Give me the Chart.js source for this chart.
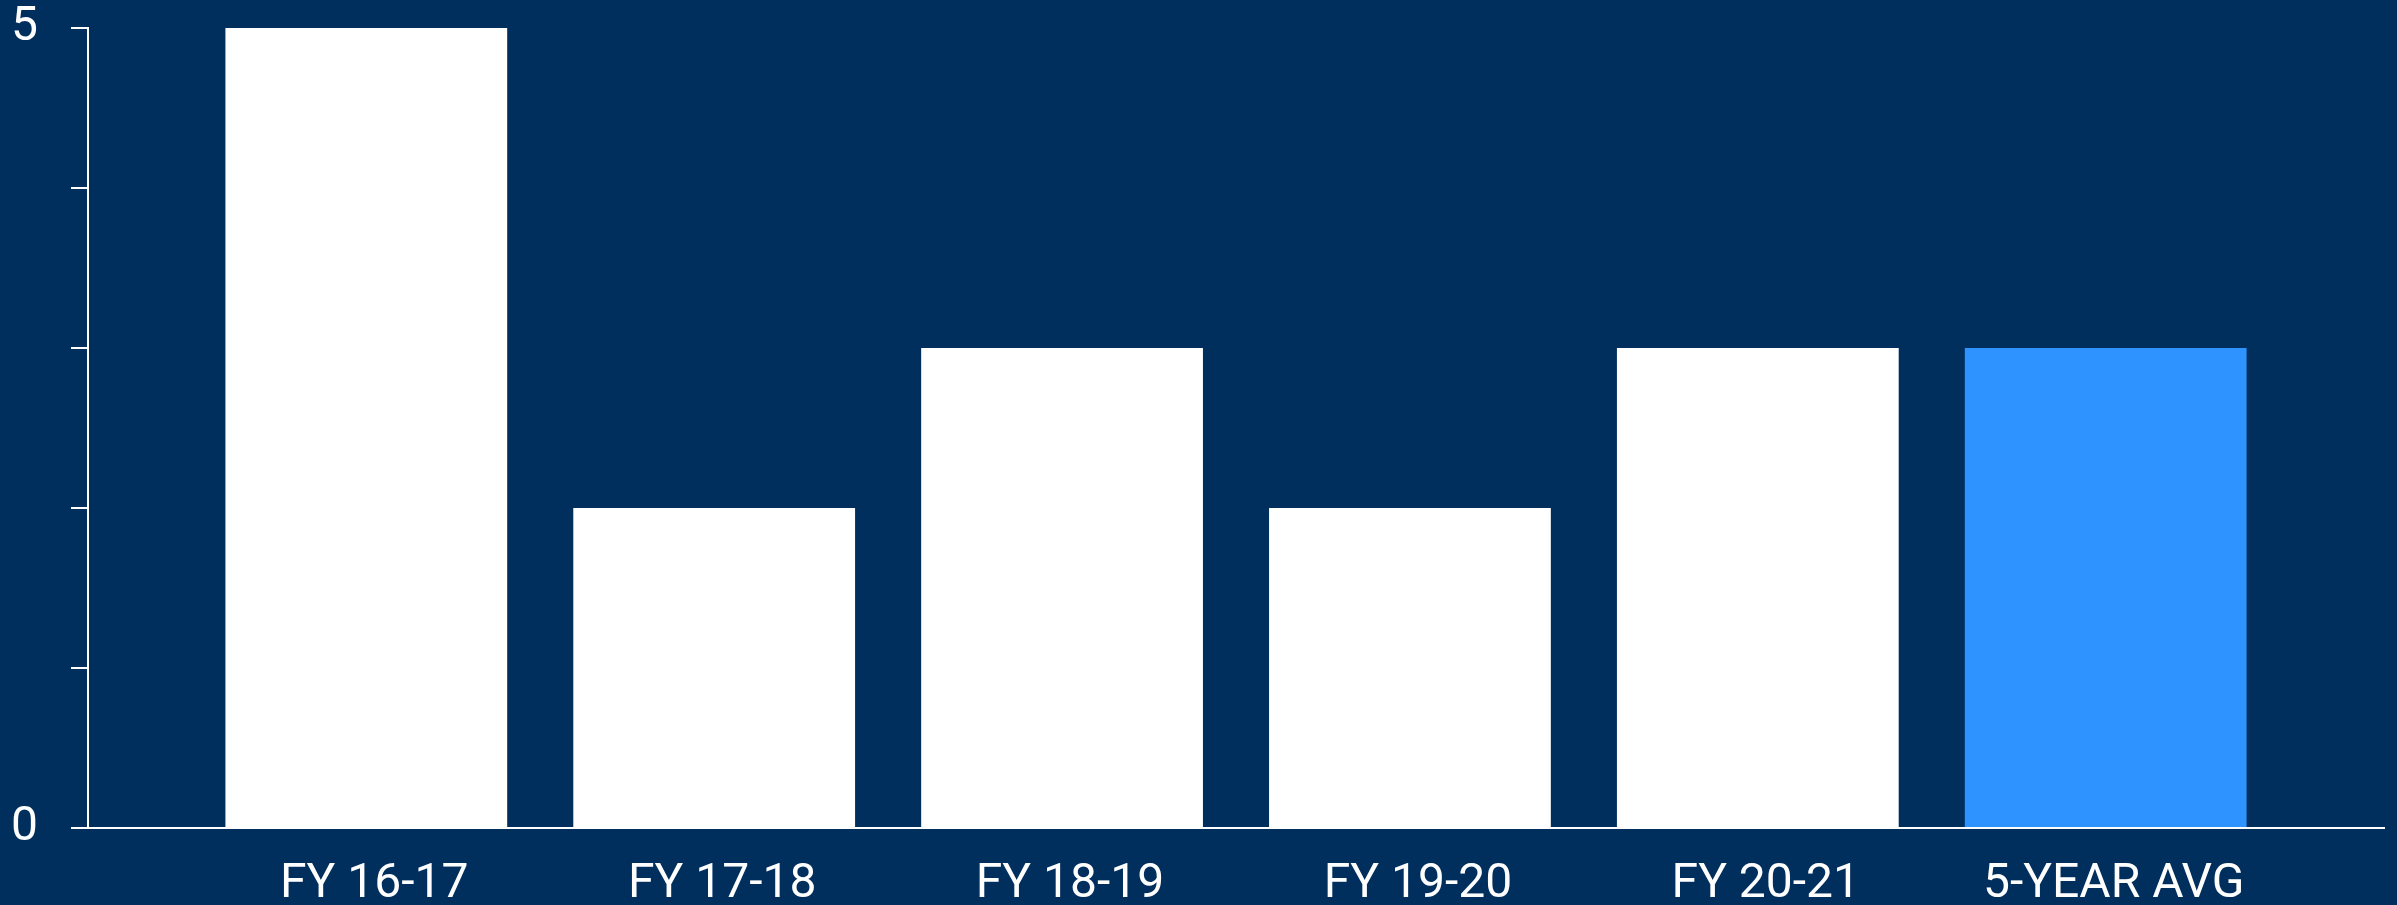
<!DOCTYPE html>
<html>
<head>
<meta charset="utf-8">
<script src="https://cdn.jsdelivr.net/npm/chart.js@4"></script>
<style>
  html, body { margin: 0; padding: 0; background: #002e5d; overflow: hidden; }
  #chart { display: block; }
</style>
</head>
<body>
<canvas id="chart" width="2397" height="905"></canvas>
<script>
// bar values per fiscal year, last bar is the 5-year average
const categories = ["FY 16-17", "FY 17-18", "FY 18-19", "FY 19-20", "FY 20-21", "5-YEAR AVG"];
const values = [5, 2, 3, 2, 3, 3];
const yLabels = [0, 5];

const WHITE = "#ffffff";
const AVG_BLUE = "#2f93ff";
const FONT_SIZE = 48;

// linear x axis so the bars sit inset from both ends of the axis line
const points = values.map((v, i) => ({ x: i, y: v }));

new Chart(document.getElementById("chart").getContext("2d"), {
  type: "bar",
  data: {
    datasets: [{
      data: points,
      backgroundColor: categories.map((c, i) => i === categories.length - 1 ? AVG_BLUE : WHITE),
      borderWidth: 0,
      barPercentage: 0.81,
      categoryPercentage: 1
    }]
  },
  options: {
    responsive: false,
    animation: false,
    layout: { padding: { left: 11, right: 13, top: 28, bottom: 0 } },
    plugins: { legend: { display: false }, tooltip: { enabled: false } },
    scales: {
      x: {
        type: "linear",
        offset: false,
        min: -0.8,
        max: categories.length - 1 + 0.8,
        afterBuildTicks: axis => { axis.ticks = categories.map((c, i) => ({ value: i })); },
        grid: { display: false, drawTicks: false },
        border: { display: true, color: WHITE, width: 2 },
        ticks: {
          color: WHITE,
          padding: 33,
          labelOffset: 8,
          maxRotation: 0,
          autoSkip: false,
          font: { family: "Roboto", size: FONT_SIZE, lineHeight: 1 },
          callback: v => categories[v] ?? ""
        },
        // fit() counts tick padding twice; keep the axis line where it belongs
        afterFit: scale => { scale.height = 29 + FONT_SIZE; }
      },
      y: {
        min: 0,
        max: 5,
        grid: { drawOnChartArea: false, drawTicks: true, tickLength: 17, color: WHITE, lineWidth: 2 },
        border: { display: true, color: WHITE, width: 2 },
        ticks: {
          stepSize: 1,
          color: WHITE,
          padding: 33,
          font: { family: "Roboto", size: FONT_SIZE, lineHeight: 1 },
          callback: v => yLabels.includes(v) ? String(v) : ""
        },
        // labels at 0 and 5 may overhang the plot; layout padding handles the room
        afterFit: scale => {
          scale.paddingTop = 0;
          scale.paddingBottom = 0;
          scale.width = 17 + 33 + 27;
        }
      }
    }
  }
});
</script>
</body>
</html>
